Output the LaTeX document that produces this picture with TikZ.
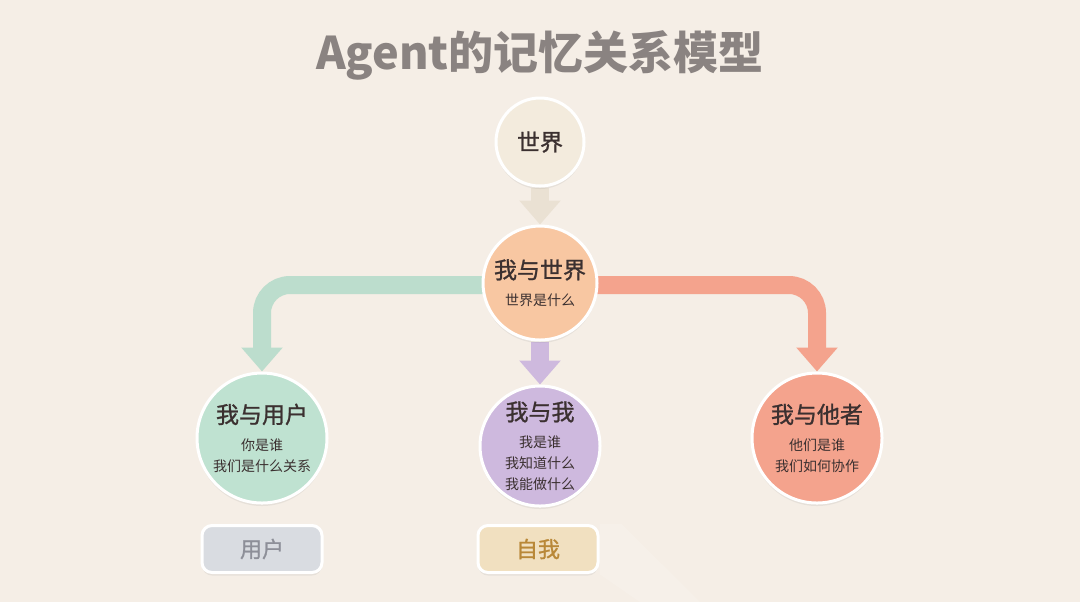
\documentclass[tikz,border=0pt]{standalone}
\usepackage{fontspec}
\setmainfont{Noto Sans CJK SC}
\newfontfamily\medfont[FakeBold=1.1]{Noto Sans CJK SC}
\usetikzlibrary{arrows.meta,backgrounds,shadows,positioning}

\definecolor{bgpaper}{HTML}{F5EEE6}
\definecolor{titlegray}{HTML}{8A8381}
\definecolor{inkdark}{HTML}{3B3030}
\definecolor{worldfill}{HTML}{F3EBDD}
\definecolor{worldarrow}{HTML}{EAE1D3}
\definecolor{peach}{HTML}{F8C7A2}
\definecolor{mint}{HTML}{BFE2D1}
\definecolor{lilac}{HTML}{CEB9DE}
\definecolor{coral}{HTML}{F4A38D}
\definecolor{slate}{HTML}{D9DCE1}
\definecolor{slatetext}{HTML}{8D8F98}
\definecolor{sand}{HTML}{F1E0C0}
\definecolor{sandtext}{HTML}{B98838}

\newcommand{\bubtitle}{\fontsize{11.5}{14}\selectfont\medfont}
\newcommand{\bubsub}{\fontsize{7}{10.5}\selectfont}

\begin{document}
\begin{tikzpicture}[
		x=0.5pt, y=-0.5pt,
		bubble/.style={circle, draw=white, line width=1.5pt, text=inkdark, align=center,
			inner sep=0pt, font=\bubsub,
			drop shadow={opacity=0.12, shadow xshift=0pt, shadow yshift=-1.5pt}},
		tag/.style={rounded corners=5pt, draw=white, line width=1.5pt,
			minimum width=60pt, minimum height=23.5pt,
			font=\fontsize{11}{13}\selectfont\medfont,
			drop shadow={opacity=0.12, shadow xshift=0pt, shadow yshift=-1.5pt}},
		flow/.style={line width=9pt, rounded corners=14pt, -{Triangle[width=20pt,length=12pt]}}
		]
		\useasboundingbox (0,0) rectangle (1080,602);
		
		% Title
		\node[font=\fontsize{22.5}{27}\selectfont\bfseries, text=titlegray] (title) at (540,55) {Agent的记忆关系模型};
		
		% Circles
		\node[bubble, fill=worldfill, minimum size=44pt] (world) at (540,142) {\bubtitle 世界};
		\node[bubble, fill=peach, minimum size=57pt] (meworld) at (540,283)
			{{\bubtitle 我与世界}\\[3pt]世界是什么};
		\node[bubble, fill=mint, minimum size=65pt] (meuser) at (262,438)
			{{\bubtitle 我与用户}\\[3pt]你是谁\\我们是什么关系};
		\node[bubble, fill=lilac, minimum size=60pt] (meself) at (540,446)
			{{\bubtitle 我与我}\\[3pt]我是谁\\我知道什么\\我能做什么};
		\node[bubble, fill=coral, minimum size=65pt] (meother) at (817,438)
			{{\bubtitle 我与他者}\\[3pt]他们是谁\\我们如何协作};
		
		% Tags
		\node[tag, fill=slate, text=slatetext] (user) at (262,549) {用户};
		\node[tag, fill=sand, text=sandtext] (self) at (538,549) {自我};
		
		\begin{scope}[on background layer]
		\fill[bgpaper] (0,0) rectangle (1080,602);
		% glare beside the tag
		\fill[white, opacity=0.15] (self.north east) -- ++(22,0) -- (700,602) -- (640,602) -- (self.south east) -- cycle;
		% Arrows
		\draw[flow, draw=worldarrow] (world.south) -- (meworld.north);
		\draw[flow, draw=lilac] (meworld.south) -- (meself.north);
		\draw[flow, draw=mint!95!gray] ([yshift=-1pt]meworld.center) -| (meuser.north);
		\draw[flow, draw=coral] ([yshift=-1pt]meworld.center) -| (meother.north);
		\end{scope}
\end{tikzpicture}
\end{document}
